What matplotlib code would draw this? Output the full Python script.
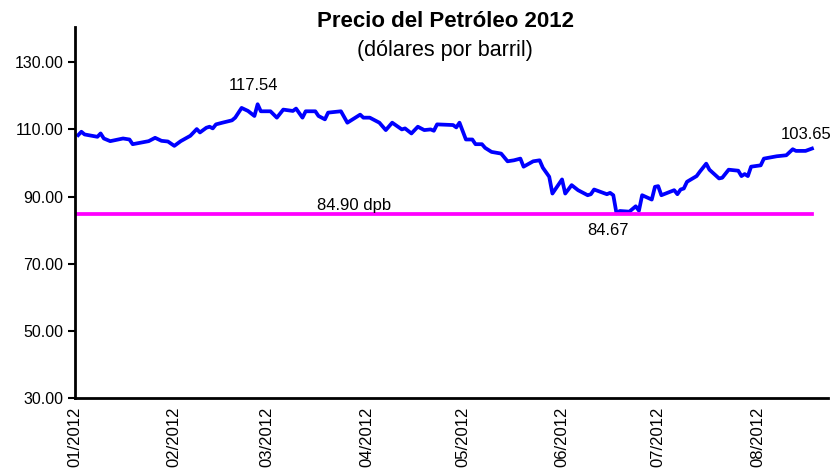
import pandas as pd
import matplotlib
matplotlib.use('Agg')
from matplotlib import pyplot as plt
import matplotlib.dates as mdates

plt.rcParams['font.family'] = ['Liberation Sans', 'DejaVu Sans']

# precio diario
dates = ['2012-01-02', '2012-01-03', '2012-01-04', '2012-01-08', '2012-01-09', '2012-01-10',
         '2012-01-12', '2012-01-16', '2012-01-18', '2012-01-19', '2012-01-24', '2012-01-26',
         '2012-01-28', '2012-01-30', '2012-02-01', '2012-02-03', '2012-02-06', '2012-02-08',
         '2012-02-09', '2012-02-11', '2012-02-12', '2012-02-13', '2012-02-14', '2012-02-16',
         '2012-02-19', '2012-02-20', '2012-02-22', '2012-02-24', '2012-02-26', '2012-02-27',
         '2012-02-28', '2012-03-02', '2012-03-04', '2012-03-06', '2012-03-09', '2012-03-10',
         '2012-03-12', '2012-03-13', '2012-03-16', '2012-03-17', '2012-03-19', '2012-03-20',
         '2012-03-24', '2012-03-26', '2012-03-30', '2012-03-31', '2012-04-02', '2012-04-05',
         '2012-04-07', '2012-04-09', '2012-04-12', '2012-04-13', '2012-04-15', '2012-04-17',
         '2012-04-19', '2012-04-21', '2012-04-22', '2012-04-23', '2012-04-28', '2012-04-29',
         '2012-04-30', '2012-05-02', '2012-05-04', '2012-05-05', '2012-05-07', '2012-05-08',
         '2012-05-10', '2012-05-13', '2012-05-15', '2012-05-17', '2012-05-19', '2012-05-20',
         '2012-05-23', '2012-05-25', '2012-05-26', '2012-05-28', '2012-05-29', '2012-06-01',
         '2012-06-02', '2012-06-04', '2012-06-06', '2012-06-09', '2012-06-10', '2012-06-11',
         '2012-06-13', '2012-06-15', '2012-06-16', '2012-06-17', '2012-06-18', '2012-06-19',
         '2012-06-22', '2012-06-24', '2012-06-25', '2012-06-26', '2012-06-29', '2012-06-30',
         '2012-07-01', '2012-07-02', '2012-07-06', '2012-07-07', '2012-07-08', '2012-07-09',
         '2012-07-10', '2012-07-13', '2012-07-14', '2012-07-16', '2012-07-17', '2012-07-20',
         '2012-07-21', '2012-07-23', '2012-07-26', '2012-07-27', '2012-07-28', '2012-07-29',
         '2012-07-30', '2012-08-02', '2012-08-03', '2012-08-07', '2012-08-10', '2012-08-12',
         '2012-08-13', '2012-08-16', '2012-08-18']
prices = [108.3, 109.3, 108.5, 107.8, 108.8, 107.3, 106.5, 107.3, 107.0, 105.6, 106.5, 107.5,
          106.6, 106.4, 105.1, 106.5, 108.1, 110.1, 109.1, 110.5, 110.8, 110.3, 111.5, 112.0,
          112.7, 113.5, 116.4, 115.5, 114.0, 117.5, 115.4, 115.4, 113.5, 115.9, 115.5, 116.2,
          113.5, 115.4, 115.4, 114.0, 113.0, 115.0, 115.4, 112.0, 114.4, 113.5, 113.5, 112.0,
          109.8, 112.0, 110.0, 110.3, 108.8, 110.8, 109.8, 110.0, 109.6, 111.5, 111.3, 110.6,
          112.0, 107.0, 107.0, 105.6, 105.6, 104.5, 103.3, 102.8, 100.5, 100.8, 101.3, 98.9,
          100.5, 100.8, 98.6, 95.9, 90.9, 95.1, 90.9, 93.4, 91.9, 90.4, 90.7, 92.1,
          91.4, 90.7, 91.1, 90.4, 85.0, 85.7, 85.5, 87.1, 85.8, 90.4, 89.1, 92.9,
          93.1, 90.4, 91.9, 90.7, 92.1, 92.4, 94.4, 96.1, 97.4, 99.8, 98.0, 95.4,
          95.6, 98.0, 97.7, 96.1, 96.7, 96.1, 98.9, 99.3, 101.3, 102.0, 102.3, 104.1,
          103.6, 103.6, 104.3]
budget_price = 84.90
labels = ['117.54', '84.67', '103.65']

x = pd.to_datetime(dates)

fig = plt.figure(figsize=(8.35, 4.69), dpi=100)
ax = fig.add_axes([0.0898, 0.1514, 0.9018, 0.791])

ax.plot(x, prices, color='#0000FF', lw=2.7, solid_joinstyle='round')
ax.plot([x[0], x[-1]], [budget_price, budget_price], color='#FF00FF', lw=2.7)

ax.set_ylim(30, 140.5)
ax.set_yticks([30, 50, 70, 90, 110, 130])
ax.yaxis.set_major_formatter(plt.FormatStrFormatter('%.2f'))
ax.set_xlim(pd.Timestamp('2012-01-01'), pd.Timestamp('2012-08-23'))
ax.xaxis.set_major_locator(mdates.MonthLocator())
ax.xaxis.set_major_formatter(mdates.DateFormatter('%m/%Y'))
plt.setp(ax.get_xticklabels(), rotation=90)

for s in ['top', 'right']:
    ax.spines[s].set_visible(False)
for s in ['left', 'bottom']:
    ax.spines[s].set_linewidth(2)
ax.tick_params(axis='y', labelsize=11.5, length=5, width=1.5, direction='out')
ax.tick_params(axis='x', labelsize=12, length=0, pad=6)

# etiquetas
imax = prices.index(max(prices))
imin = prices.index(min(prices))
ax.annotate(labels[0], (x[imax], prices[imax]), xytext=(-3, 8), textcoords='offset points',
            ha='center', va='bottom', fontsize=12)
ax.annotate(labels[1], (x[imin], prices[imin]), xytext=(-6, -7), textcoords='offset points',
            ha='center', va='top', fontsize=12)
ax.annotate(labels[2], (x[-1], prices[-1]), xytext=(-4, 5), textcoords='offset points',
            ha='center', va='bottom', fontsize=12)
ax.text(pd.Timestamp('2012-03-28'), budget_price + 0.3, '84.90 dpb', ha='center', va='bottom',
        fontsize=12)

fig.text(0.533, 0.955, 'Precio del Petróleo 2012', ha='center', va='center',
         fontsize=16, fontweight='bold')
fig.text(0.533, 0.893, '(dólares por barril)', ha='center', va='center', fontsize=15.5)

fig.savefig('out.png', dpi=100)
